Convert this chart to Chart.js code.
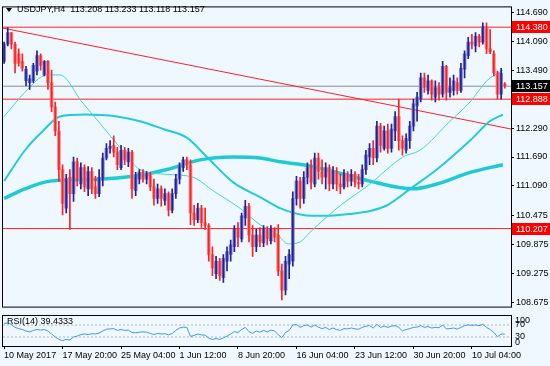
<!DOCTYPE html>
<html lang="fr">
<head>
<meta charset="utf-8">
<title>USDJPY H4</title>
<script src="https://cdn.jsdelivr.net/npm/chart.js@4.4.1/dist/chart.umd.min.js"></script>
<style>
body {margin: 0; background: #f0f8ff;}
.zone {position: absolute; left: 0;}
</style>
</head>
<body>
<div class="zone" style="top:0"><canvas id="canvasPrix" width="550" height="314"></canvas></div>
<div class="zone" style="top:314px"><canvas id="canvasRsi" width="550" height="52"></canvas></div>

<script>
// bougies H4 (une bougie ici = deux bougies H4 du graphique)
var opens = [
  113.67,114.03,114.27,114.03,113.83,113.67,113.27,113.23,113.27,113.47,
  113.79,113.39,113.67,113.23,112.73,112.23,111.43,110.63,111.27,110.93,
  111.59,111.13,111.47,111.03,111.39,111.07,110.93,111.23,111.67,111.87,
  111.93,111.79,111.47,111.83,111.59,111.79,110.99,111.23,111.37,111.23,
  111.33,111.07,110.83,111.03,110.79,110.93,110.59,110.93,111.23,111.47,
  111.63,111.53,110.53,110.39,110.63,110.33,110.27,109.67,109.27,109.53,
  109.19,109.53,109.67,109.83,110.19,109.99,110.43,110.67,110.07,109.83,
  110.07,109.91,110.19,109.95,110.19,110.07,109.33,108.93,109.47,109.53,
  110.83,111.19,110.83,111.27,111.47,111.13,111.67,111.39,111.27,111.47,
  111.13,111.39,111.13,111.07,111.33,111.19,111.33,111.17,111.13,111.43,
  111.69,111.87,111.67,112.33,111.87,112.23,111.87,112.23,112.53,112.03,
  111.83,112.03,112.33,112.75,112.89,113.33,113.07,113.27,112.93,113.13,
  112.99,113.57,113.03,113.07,113.23,113.07,113.51,113.79,114.07,113.99,
  114.19,114.07,114.39,113.93,113.83,113.43,112.99,113.208];
var highs = [
  114.07,114.37,114.27,114.07,113.93,113.83,113.57,113.39,113.63,113.89,
  113.83,113.69,113.69,113.49,112.83,112.43,111.53,111.33,111.43,111.69,
  111.67,111.57,111.53,111.49,111.47,111.29,111.43,111.77,111.97,112.03,
  112.13,111.89,111.93,111.89,111.87,111.83,111.37,111.43,111.43,111.39,
  111.37,111.23,111.13,111.09,111.03,110.97,111.03,111.33,111.57,111.69,
  111.69,111.63,110.69,110.73,110.69,110.63,110.31,109.83,109.63,109.59,
  109.67,109.83,109.97,110.27,110.33,110.53,110.79,110.73,110.27,110.19,
  110.23,110.27,110.25,110.27,110.23,110.29,109.47,109.63,109.77,110.97,
  111.29,111.27,111.39,111.57,111.63,111.77,111.77,111.63,111.57,111.53,
  111.49,111.47,111.33,111.43,111.39,111.43,111.39,111.33,111.53,111.83,
  111.97,112.03,112.43,112.39,112.33,112.37,112.37,112.63,112.89,112.13,
  112.17,112.43,112.89,113.03,113.43,113.43,113.39,113.29,113.27,113.23,
  113.67,113.59,113.33,113.39,113.33,113.63,113.89,114.17,114.23,114.27,
  114.23,114.47,114.47,114.33,113.89,113.47,113.53,113.233];
var lows = [
  113.63,113.99,113.93,113.43,113.57,113.47,113.17,113.09,113.23,113.39,
  113.49,113.37,113.09,112.63,112.13,111.19,110.49,110.53,110.19,110.77,
  111.09,111.03,110.97,110.89,110.93,110.83,110.87,111.09,111.63,111.77,
  111.69,111.43,111.43,111.53,111.49,110.83,110.89,111.13,111.17,111.13,
  110.99,110.69,110.73,110.67,110.69,110.47,110.53,110.83,111.13,111.39,
  111.43,110.29,110.27,110.33,110.23,110.19,109.53,109.23,109.17,109.13,
  109.09,109.33,109.53,109.73,109.83,109.93,110.27,109.93,109.63,109.73,
  109.83,109.83,109.87,109.89,109.93,109.23,108.73,108.83,109.17,109.43,
  110.69,110.63,110.73,111.13,111.03,111.07,111.23,111.13,111.03,110.99,
  111.03,110.99,110.93,111.03,111.07,111.09,111.07,111.03,111.07,111.33,
  111.53,111.53,111.59,111.79,111.83,111.77,111.79,112.03,111.83,111.73,
  111.77,111.87,112.23,112.43,112.83,113.03,112.99,112.87,112.83,112.87,
  112.93,112.87,112.93,112.97,112.99,113.03,113.33,113.73,113.93,113.87,
  113.97,114.03,113.83,113.83,113.37,112.89,112.89,113.118];
var closes = [
  114.03,114.27,114.03,113.63,113.63,113.53,113.51,113.31,113.59,113.79,
  113.59,113.67,113.23,112.73,112.23,111.43,110.73,111.23,110.93,111.59,
  111.23,111.47,111.07,111.39,111.03,110.93,111.27,111.67,111.87,111.91,
  111.79,111.53,111.83,111.63,111.79,111.03,111.27,111.37,111.23,111.33,
  111.07,110.83,111.03,110.83,110.93,110.59,110.93,111.23,111.49,111.63,
  111.53,110.53,110.39,110.63,110.33,110.27,109.67,109.39,109.53,109.23,
  109.59,109.73,109.87,110.19,110.03,110.47,110.67,110.07,109.83,110.07,
  109.93,110.19,109.99,110.19,110.03,109.33,108.93,109.53,109.67,110.83,
  111.19,110.83,111.27,111.47,111.17,111.67,111.39,111.27,111.47,111.13,
  111.39,111.13,111.07,111.33,111.19,111.33,111.17,111.13,111.43,111.73,
  111.87,111.67,112.33,111.93,112.23,111.87,112.27,112.53,112.03,111.87,
  112.07,112.33,112.79,112.93,113.33,113.13,113.27,112.99,113.13,112.99,
  113.57,113.03,113.13,113.27,113.07,113.53,113.83,114.07,114.03,114.19,
  114.07,114.39,113.93,113.87,113.43,112.99,113.43,113.157];

// RSI(14), une valeur par bougie
var rsi14 = [
  75,77,72,62,58,55,50,47,52,55,
  53,55,50,40,30,22,18,22,20,30,
  33,38,40,38,41,40,43,50,56,57,
  58,52,55,52,53,45,44,46,47,46,
  42,38,42,40,41,37,42,52,60,63,
  62,32,35,40,37,36,26,22,25,22,
  27,33,40,48,45,55,62,48,42,50,
  46,52,47,53,50,38,28,45,52,70,
  72,62,68,70,63,70,63,58,62,55,
  60,55,52,58,57,60,57,56,62,66,
  68,60,72,62,66,62,66,68,62,50,
  55,58,62,63,68,62,65,60,62,61,
  70,57,58,60,56,62,68,70,69,70,
  68,72,62,55,45,31,40,39.4333];

// moyennes mobiles : [indice bougie, prix]
var maRapide = [[0,112.53],[5.7,113.03],[11.7,113.39],[15.3,113.39],[21.3,112.83],[26.2,112.39],[31.7,111.89],[37.2,111.43],[44.6,111.33],[51.7,111.27],[57.2,110.99],[64.5,110.63],[70,110.29],[74.7,110.09],[77.7,109.89],[81,109.93],[83.7,110.13],[91.1,110.63],[100.1,111.13],[109.1,111.69],[113.8,111.83],[122,112.43],[127.5,112.83],[132.1,113.27],[136.5,113.49]];
var maMoyenne = [[0,111.19],[5.7,111.83],[10.6,112.23],[15.3,112.53],[22.1,112.57],[30.9,112.53],[37.2,112.43],[43.5,112.27],[50,112.09],[55.5,111.69],[62.6,111.17],[70.8,110.83],[75.5,110.63],[81.8,110.49],[87.3,110.47],[94.6,110.51],[100.1,110.57],[104.8,110.69],[111.1,111.03],[118.4,111.43],[127.5,112.03],[132.9,112.43],[136.5,112.57]];
var maLente = [[0,110.83],[5.7,111.03],[12.6,111.19],[26.2,111.23],[35.3,111.29],[44.6,111.43],[53.6,111.63],[62.6,111.69],[70,111.67],[75.5,111.59],[81.8,111.53],[91.1,111.37],[100.1,111.19],[111.9,111.03],[118.4,111.13],[127.5,111.37],[136.5,111.53]];

// tendance baissière et niveaux horizontaux
var tendance = [[-0.3,114.36],[138.7,112.27]];
var niveaux = [114.380, 112.888, 110.207];
var dernierPrix = 113.157;

// graduations
var prixGraduations = [114.690, 114.090, 113.490, 112.290, 111.690, 111.090, 110.475, 109.875, 109.275, 108.675];
var rsiGraduations = [100, 70, 30, 0];
var tempsEtiquettes = ['10 May 2017', '17 May 20:00', '25 May 04:00', '1 Jun 12:00', '8 Jun 20:00', '16 Jun 04:00', '23 Jun 12:00', '30 Jun 20:00', '10 Jul 04:00'];
var tempsIndices = [0, 16, 32, 48, 64, 80, 96, 112, 128];

var xMin = -0.3, xMax = 138.7;
var police = '"Liberation Sans", Arial, sans-serif';

Chart.defaults.font.family = police;
Chart.defaults.font.size = 9;
Chart.defaults.color = '#000';

var indices = closes.map(function (c, i) { return i; });
var meches = indices.map(function (i) { return {x: i, y: [lows[i], highs[i]]}; });
var corps = indices.map(function (i) { return {x: i, y: [opens[i], closes[i]]}; });
var couleurMeche = indices.map(function (i) { return closes[i] >= opens[i] ? '#20209a' : '#ff2020'; });
var couleurCorps = indices.map(function (i) { return closes[i] >= opens[i] ? '#7d7dc8' : '#f48686'; });

function points(liste) {
  return liste.map(function (p) { return {x: p[0], y: p[1]}; });
}
function horizontale(v) {
  return [{x: xMin, y: v}, {x: xMax, y: v}];
}

var ligne = {pointRadius: 0, fill: false};
function ds(base, extra) {
  return Object.assign({}, ligne, base, extra);
}

var datasetsPrix = [
  {type: 'bar', data: meches, backgroundColor: couleurMeche, barThickness: 1, grouped: false, order: 0},
  {type: 'bar', data: corps, backgroundColor: couleurCorps, barThickness: 3, minBarLength: 1, grouped: false, order: 1},
  ds({type: 'line', data: points(maRapide), borderColor: '#3fd3dc', borderWidth: 1, cubicInterpolationMode: 'monotone', order: 2}),
  ds({type: 'line', data: points(maMoyenne), borderColor: '#22cbd5', borderWidth: 2, cubicInterpolationMode: 'monotone', order: 2}),
  ds({type: 'line', data: points(maLente), borderColor: '#1fcad4', borderWidth: 3.5, cubicInterpolationMode: 'monotone', order: 2}),
  ds({type: 'line', data: points(tendance), borderColor: '#ff2020', borderWidth: 1, order: 3}),
  ds({type: 'line', data: horizontale(dernierPrix), borderColor: '#8c8c8c', borderWidth: 1, order: 3})
];
niveaux.forEach(function (v) {
  datasetsPrix.push(ds({type: 'line', data: horizontale(v), borderColor: '#ff2020', borderWidth: 1, order: 3}));
});

// cadre, étiquettes de prix colorées et titre
var decorPrix = {
  id: 'decorPrix',
  afterDraw: function (chart) {
    var c = chart.ctx, ca = chart.chartArea, sy = chart.scales.y;
    var n = closes.length - 1;
    c.save();
    c.strokeStyle = '#000';
    c.lineWidth = 1;
    c.strokeRect(ca.left - 0.5, ca.top - 0.5, ca.right - ca.left + 1, ca.bottom - ca.top + 1);

    c.font = '9px ' + police;
    c.textBaseline = 'middle';
    c.textAlign = 'left';
    var etiquette = function (v, fond) {
      var py = Math.round(sy.getPixelForValue(v));
      c.fillStyle = fond;
      c.fillRect(ca.right + 1, py - 6, chart.width - ca.right - 1, 12);
      c.fillStyle = '#fff';
      c.fillText(v.toFixed(3), ca.right + 5, py + 0.5);
    };
    niveaux.forEach(function (v) { etiquette(v, '#ff0000'); });
    etiquette(dernierPrix, '#000');

    c.fillStyle = '#000';
    c.beginPath();
    c.moveTo(6, 8); c.lineTo(12, 8); c.lineTo(9, 12);
    c.closePath();
    c.fill();
    c.fillText('USDJPY,H4  ' + opens[n].toFixed(3) + ' ' + highs[n].toFixed(3) + ' ' +
      lows[n].toFixed(3) + ' ' + closes[n].toFixed(3), 17, 10);
    c.restore();
  }
};

new Chart(document.getElementById('canvasPrix').getContext('2d'), {
  type: 'bar',
  data: {datasets: datasetsPrix},
  options: {
    responsive: false,
    animation: false,
    events: [],
    layout: {padding: {left: 3, top: 2, right: 0, bottom: 2}},
    plugins: {legend: {display: false}, tooltip: {enabled: false}},
    scales: {
      x: {type: 'linear', min: xMin, max: xMax, offset: false, display: false},
      y: {
        position: 'right',
        min: 108.59,
        max: 114.79,
        afterBuildTicks: function (s) { s.ticks = prixGraduations.map(function (v) { return {value: v}; }); },
        afterFit: function (s) { s.width = 39; },
        ticks: {padding: 2, callback: function (v) { return v.toFixed(3); }},
        grid: {drawOnChartArea: false, tickLength: 3, color: '#000'},
        border: {display: false}
      }
    }
  },
  plugins: [decorPrix]
});

// panneau RSI
var decorRsi = {
  id: 'decorRsi',
  afterDraw: function (chart) {
    var c = chart.ctx, ca = chart.chartArea, sy = chart.scales.y;
    c.save();
    c.strokeStyle = '#000';
    c.lineWidth = 1;
    c.strokeRect(ca.left - 0.5, ca.top - 0.5, ca.right - ca.left + 1, ca.bottom - ca.top + 1);
    c.fillStyle = '#000';
    c.font = '9px ' + police;
    c.textAlign = 'left';
    c.textBaseline = 'middle';
    c.fillText('RSI(14) ' + rsi14[rsi14.length - 1].toFixed(4), ca.left + 4, ca.top + 6);
    rsiGraduations.forEach(function (v) {
      var py = sy.getPixelForValue(v);
      if (v === 100) { c.textBaseline = 'top'; py = ca.top; }
      else if (v === 0) { c.textBaseline = 'bottom'; py = ca.bottom + 1; }
      else { c.textBaseline = 'middle'; }
      c.fillText(String(v), ca.right + 4, py);
    });
    c.restore();
  }
};

new Chart(document.getElementById('canvasRsi').getContext('2d'), {
  type: 'line',
  data: {
    datasets: [
      ds({data: indices.map(function (i) { return {x: i, y: rsi14[i]}; }), borderColor: '#3d98f2', borderWidth: 1, tension: 0}),
      ds({data: horizontale(70), borderColor: '#b4b4b4', borderWidth: 1, borderDash: [2, 2]}),
      ds({data: horizontale(30), borderColor: '#b4b4b4', borderWidth: 1, borderDash: [2, 2]})
    ]
  },
  options: {
    responsive: false,
    animation: false,
    events: [],
    layout: {padding: {left: 3, top: 2, right: 0, bottom: 0}},
    plugins: {legend: {display: false}, tooltip: {enabled: false}},
    scales: {
      x: {
        type: 'linear',
        min: xMin,
        max: xMax,
        afterBuildTicks: function (s) { s.ticks = tempsIndices.map(function (v) { return {value: v}; }); },
        afterFit: function (s) { s.height = 20; },
        ticks: {align: 'start', maxRotation: 0, autoSkip: false, padding: 1,
          callback: function (v, i) { return tempsEtiquettes[i]; }},
        grid: {drawOnChartArea: false, tickLength: 3, color: '#000'},
        border: {display: false}
      },
      y: {
        position: 'right',
        min: 0,
        max: 100,
        afterFit: function (s) { s.width = 39; },
        ticks: {display: false},
        grid: {display: false},
        border: {display: false}
      }
    }
  },
  plugins: [decorRsi]
});
</script>
</body>
</html>
